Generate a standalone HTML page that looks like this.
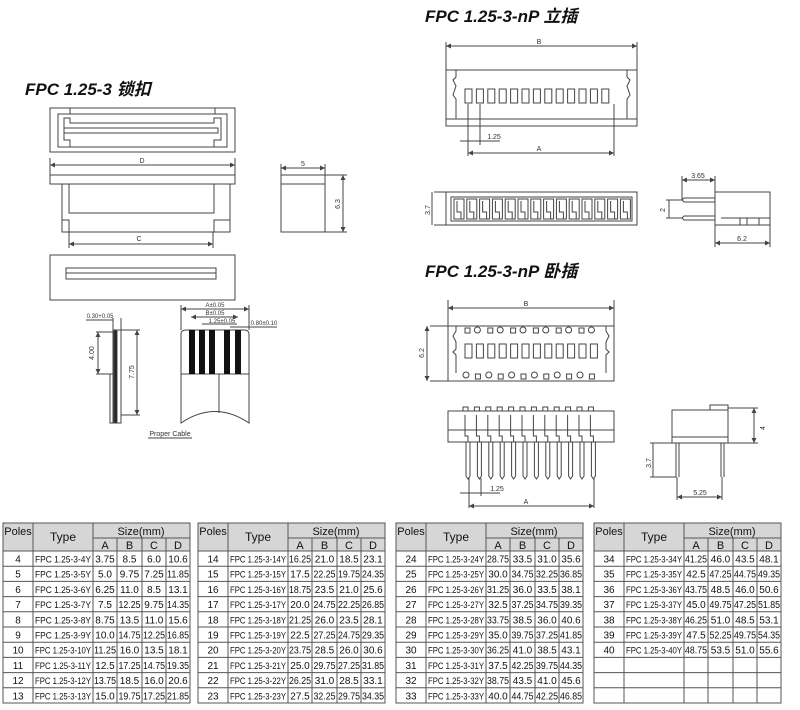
<!DOCTYPE html>
<html><head><meta charset="utf-8"><style>
body{margin:0;background:#fff;}
svg{display:block;font-family:"Liberation Sans","Noto Sans CJK SC",sans-serif;}
.ttl{font-weight:bold;font-style:italic;font-size:17px;fill:#111;}
.d{font-size:7px;fill:#333;text-anchor:middle;}
.s{fill:none;stroke:#444;stroke-width:1;}
.t{font-size:10px;fill:#111;}
.c{font-size:10px;fill:#111;text-anchor:middle;}
.h{font-size:11px;fill:#111;text-anchor:middle;}
.g line,.g rect{stroke:#555;stroke-width:1;}
</style></head><body>
<svg id="sv" width="800" height="710" viewBox="0 0 800 710" xmlns="http://www.w3.org/2000/svg">
<defs><marker id="a" viewBox="0 0 6 6" refX="6" refY="3" markerWidth="5" markerHeight="5" orient="auto-start-reverse"><path d="M0,0L6,3L0,6z" fill="#444"/></marker></defs>
<!-- titles -->
<text x="25" y="95" class="ttl">FPC 1.25-3 锁扣</text>
<text x="425" y="22" class="ttl">FPC 1.25-3-nP 立插</text>
<text x="425" y="277" class="ttl">FPC 1.25-3-nP 卧插</text>

<!-- left top view -->
<g class="s">
<rect x="50" y="108" width="185" height="44"/>
<rect x="58" y="114" width="169" height="33"/>
<line x1="70" y1="108" x2="70" y2="114"/><line x1="215" y1="108" x2="215" y2="114"/>
<polyline points="70,147 70,140 64,140 64,118 70,118 70,123 214,123 214,118 221,118 221,140 214,140 214,147"/>
<rect x="64" y="128" width="154" height="5"/>
<!-- D dim -->
<line x1="50" y1="158" x2="50" y2="175"/><line x1="235" y1="158" x2="235" y2="175"/>
<line x1="50" y1="165" x2="235" y2="165" marker-start="url(#a)" marker-end="url(#a)"/>
<!-- side -->
<rect x="50" y="175" width="185" height="9"/>
<polyline points="62,184 62,232 230,232 230,184"/>
<polyline points="69,184 69,213 214,213 214,184"/>
<polyline points="62,220 69,220 69,232"/><polyline points="230,220 214,220 214,232"/>
<line x1="69" y1="232" x2="69" y2="248"/><line x1="213" y1="232" x2="213" y2="248"/>
<line x1="69" y1="244" x2="213" y2="244" marker-start="url(#a)" marker-end="url(#a)"/>
<!-- small box -->
<rect x="281" y="175" width="44" height="57"/><line x1="281" y1="184" x2="325" y2="184"/>
<line x1="281" y1="164" x2="281" y2="175"/><line x1="325" y1="164" x2="325" y2="175"/>
<line x1="281" y1="168" x2="325" y2="168" marker-start="url(#a)" marker-end="url(#a)"/>
<line x1="325" y1="175" x2="347" y2="175"/><line x1="325" y1="232" x2="347" y2="232"/>
<line x1="343" y1="175" x2="343" y2="232" marker-start="url(#a)" marker-end="url(#a)"/>
<!-- bottom rect -->
<rect x="50" y="255" width="185" height="45"/>
<rect x="66" y="268" width="150" height="11"/><line x1="66" y1="273" x2="216" y2="273"/>
<!-- cable -->
<rect x="113" y="330" width="8" height="93"/>
<rect x="114" y="330" width="3" height="93" fill="#222"/>
<rect x="110" y="374" width="3" height="49"/>
<line x1="96" y1="332" x2="113" y2="332"/><line x1="96" y1="374" x2="113" y2="374"/>
<line x1="98" y1="332" x2="98" y2="374" marker-start="url(#a)" marker-end="url(#a)"/>
<line x1="121" y1="330" x2="140" y2="330"/><line x1="121" y1="415" x2="140" y2="415"/>
<line x1="137" y1="330" x2="137" y2="415" marker-start="url(#a)" marker-end="url(#a)"/>
<line x1="113" y1="318" x2="113" y2="330"/><line x1="121" y1="318" x2="121" y2="330"/>
<line x1="86" y1="320" x2="113" y2="320"/>
<path d="M181,334 Q181,330 186,330 L244,330 Q249,330 249,334 L249,423 Q215,400 181,423 Z"/>
<line x1="181" y1="374" x2="249" y2="374"/><line x1="219" y1="374" x2="219" y2="413"/>
<line x1="181" y1="309" x2="249" y2="309" marker-start="url(#a)" marker-end="url(#a)"/>
<line x1="191" y1="317" x2="238" y2="317" marker-start="url(#a)" marker-end="url(#a)"/>
<line x1="202" y1="324" x2="237" y2="324"/>
<line x1="230" y1="327" x2="277" y2="327"/>
<line x1="181" y1="305" x2="181" y2="330"/><line x1="249" y1="305" x2="249" y2="330"/>
<line x1="148" y1="438" x2="192" y2="438"/>
</g>
<g fill="#111">
<rect x="189" y="330" width="6" height="44"/><rect x="199" y="330" width="6" height="44"/><rect x="209" y="330" width="6" height="44"/><rect x="224" y="330" width="6" height="44"/><rect x="235" y="330" width="6" height="44"/>
</g>
<text x="142" y="163" class="d">D</text><text x="139" y="241" class="d">C</text>
<text x="303" y="166" class="d">5</text>
<text x="340" y="204" class="d" transform="rotate(-90 340 204)">6.3</text>
<text x="100" y="318" class="d" style="font-size:6px">0.30+0.05</text>
<text x="94" y="353" class="d" transform="rotate(-90 94 353)">4.00</text>
<text x="134" y="372" class="d" transform="rotate(-90 134 372)">7.75</text>
<text x="215" y="307" class="d" style="font-size:6px">A±0.05</text>
<text x="215" y="315" class="d" style="font-size:6px">B±0.05</text>
<text x="222" y="323" class="d" style="font-size:6px">1.25±0.05</text>
<text x="264" y="325" class="d" style="font-size:6px">0.80±0.10</text>
<text x="170" y="436" class="d">Proper Cable</text>

<!-- right top -->
<g class="s">
<line x1="446" y1="42" x2="446" y2="70"/><line x1="637" y1="42" x2="637" y2="70"/>
<line x1="446" y1="46" x2="637" y2="46" marker-start="url(#a)" marker-end="url(#a)"/>
<rect x="446" y="70" width="191" height="56"/><line x1="446" y1="119" x2="637" y2="119"/>
<path d="M456,70 L456,77 L453,80 L456,86 L453,95 L456,99 L456,119"/>
<path d="M627,70 L627,77 L630,80 L627,86 L630,95 L627,99 L627,119"/>
<line x1="468" y1="104" x2="468" y2="156"/><line x1="480" y1="104" x2="480" y2="145"/><line x1="614" y1="104" x2="614" y2="156"/>
<line x1="460" y1="141" x2="500" y2="141"/>
<line x1="468" y1="153" x2="614" y2="153" marker-start="url(#a)" marker-end="url(#a)"/>
<!-- front -->
<rect x="446" y="192" width="191" height="33"/><rect x="451" y="197" width="181" height="24"/>
<line x1="434" y1="192" x2="446" y2="192"/><line x1="434" y1="225" x2="446" y2="225"/>
<line x1="432" y1="192" x2="432" y2="225"/>
<!-- side -->
<rect x="715" y="192" width="55" height="33"/><line x1="721" y1="218" x2="770" y2="218"/>
<line x1="740" y1="218" x2="740" y2="225"/><line x1="747" y1="218" x2="747" y2="225"/><line x1="759" y1="218" x2="759" y2="225"/>
<path d="M715,198 L684,198 L682,200 L684,202 L715,202"/><path d="M715,216 L684,216 L682,218 L684,220 L715,220"/>
<line x1="682" y1="176" x2="682" y2="200"/><line x1="715" y1="176" x2="715" y2="192"/>
<line x1="682" y1="180" x2="715" y2="180" marker-start="url(#a)" marker-end="url(#a)"/>
<line x1="666" y1="200" x2="682" y2="200"/><line x1="666" y1="218" x2="682" y2="218"/>
<line x1="669" y1="200" x2="669" y2="218"/>
<line x1="715" y1="225" x2="715" y2="247"/><line x1="770" y1="225" x2="770" y2="247"/>
<line x1="715" y1="243" x2="770" y2="243" marker-start="url(#a)" marker-end="url(#a)"/>
</g>
<text x="539" y="44" class="d">B</text><text x="494" y="139" class="d">1.25</text><text x="539" y="151" class="d">A</text>
<text x="430" y="210" class="d" transform="rotate(-90 430 210)">3.7</text>
<text x="698" y="178" class="d">3.65</text><text x="665" y="210" class="d" transform="rotate(-90 665 210)">2</text>
<text x="742" y="241" class="d">6.2</text>

<!-- right bottom -->
<g class="s">
<line x1="448" y1="300" x2="448" y2="326"/><line x1="614" y1="300" x2="614" y2="326"/>
<line x1="448" y1="308" x2="614" y2="308" marker-start="url(#a)" marker-end="url(#a)"/>
<rect x="448" y="326" width="166" height="55"/>
<path d="M456,326 L456,331 L453,336 L456,342 L456,349 L453,352 L456,355 L456,373"/>
<path d="M606,326 L606,331 L609,336 L606,342 L606,349 L609,352 L606,355 L606,373"/>
<line x1="430" y1="326" x2="448" y2="326"/><line x1="430" y1="381" x2="448" y2="381"/>
<line x1="427" y1="326" x2="427" y2="381" marker-start="url(#a)" marker-end="url(#a)"/>
<rect x="448" y="411" width="166" height="31"/>
<line x1="448" y1="430" x2="614" y2="430"/>
<rect x="672" y="410" width="56" height="33"/><rect x="710" y="405" width="18" height="5"/>
<line x1="672" y1="437" x2="728" y2="437"/>
<line x1="676" y1="443" x2="676" y2="477"/><line x1="679" y1="443" x2="679" y2="477"/>
<line x1="721" y1="443" x2="721" y2="477"/><line x1="724" y1="443" x2="724" y2="477"/>
<line x1="728" y1="408" x2="758" y2="408"/><line x1="728" y1="443" x2="758" y2="443"/>
<line x1="754" y1="408" x2="754" y2="443" marker-start="url(#a)" marker-end="url(#a)"/>
<line x1="650" y1="443" x2="676" y2="443"/><line x1="650" y1="477" x2="676" y2="477"/>
<line x1="653" y1="443" x2="653" y2="477"/>
<line x1="677" y1="477" x2="677" y2="500"/><line x1="722" y1="477" x2="722" y2="500"/>
<line x1="677" y1="497" x2="722" y2="497" marker-start="url(#a)" marker-end="url(#a)"/>
<line x1="469" y1="478" x2="469" y2="508"/><line x1="481" y1="478" x2="481" y2="496"/><line x1="594" y1="478" x2="594" y2="508"/>
<line x1="460" y1="493" x2="500" y2="493"/>
<line x1="469" y1="506" x2="594" y2="506" marker-start="url(#a)" marker-end="url(#a)"/>
</g>
<g id="dyn" class="s"></g>
<text x="526" y="306" class="d">B</text>
<text x="424" y="353" class="d" transform="rotate(-90 424 353)">6.2</text>
<text x="765" y="428" class="d" transform="rotate(-90 765 428)">4</text>
<text x="651" y="463" class="d" transform="rotate(-90 651 463)">3.7</text>
<text x="700" y="495" class="d">5.25</text>
<text x="497" y="491" class="d">1.25</text><text x="526" y="504" class="d">A</text>

<!-- tables -->
<g class="g" fill="none">
<g id="tbls"></g>
</g>
<g id="ttext"></g>
<g class="tables-text">
<text x="18" y="535" class="h">Poles</text><text x="63" y="541" class="h" style="font-size:12px">Type</text><text x="141" y="535" class="h">Size(mm)</text>
<text x="105" y="549" class="h">A</text><text x="129.5" y="549" class="h">B</text><text x="154" y="549" class="h">C</text><text x="178" y="549" class="h">D</text>
<text x="213" y="535" class="h">Poles</text><text x="258" y="541" class="h" style="font-size:12px">Type</text><text x="336" y="535" class="h">Size(mm)</text>
<text x="300" y="549" class="h">A</text><text x="324.5" y="549" class="h">B</text><text x="349" y="549" class="h">C</text><text x="373" y="549" class="h">D</text>
<text x="411" y="535" class="h">Poles</text><text x="456" y="541" class="h" style="font-size:12px">Type</text><text x="534" y="535" class="h">Size(mm)</text>
<text x="498" y="549" class="h">A</text><text x="522.5" y="549" class="h">B</text><text x="547" y="549" class="h">C</text><text x="571" y="549" class="h">D</text>
<text x="609" y="535" class="h">Poles</text><text x="654" y="541" class="h" style="font-size:12px">Type</text><text x="732" y="535" class="h">Size(mm)</text>
<text x="696" y="549" class="h">A</text><text x="720.5" y="549" class="h">B</text><text x="745" y="549" class="h">C</text><text x="769" y="549" class="h">D</text>
</g>
<g id="rows"></g>
</svg>
<div id="data" style="display:none">
4|FPC 1.25-3-4Y|3.75|8.5|6.0|10.6
5|FPC 1.25-3-5Y|5.0|9.75|7.25|11.85
6|FPC 1.25-3-6Y|6.25|11.0|8.5|13.1
7|FPC 1.25-3-7Y|7.5|12.25|9.75|14.35
8|FPC 1.25-3-8Y|8.75|13.5|11.0|15.6
9|FPC 1.25-3-9Y|10.0|14.75|12.25|16.85
10|FPC 1.25-3-10Y|11.25|16.0|13.5|18.1
11|FPC 1.25-3-11Y|12.5|17.25|14.75|19.35
12|FPC 1.25-3-12Y|13.75|18.5|16.0|20.6
13|FPC 1.25-3-13Y|15.0|19.75|17.25|21.85
14|FPC 1.25-3-14Y|16.25|21.0|18.5|23.1
15|FPC 1.25-3-15Y|17.5|22.25|19.75|24.35
16|FPC 1.25-3-16Y|18.75|23.5|21.0|25.6
17|FPC 1.25-3-17Y|20.0|24.75|22.25|26.85
18|FPC 1.25-3-18Y|21.25|26.0|23.5|28.1
19|FPC 1.25-3-19Y|22.5|27.25|24.75|29.35
20|FPC 1.25-3-20Y|23.75|28.5|26.0|30.6
21|FPC 1.25-3-21Y|25.0|29.75|27.25|31.85
22|FPC 1.25-3-22Y|26.25|31.0|28.5|33.1
23|FPC 1.25-3-23Y|27.5|32.25|29.75|34.35
24|FPC 1.25-3-24Y|28.75|33.5|31.0|35.6
25|FPC 1.25-3-25Y|30.0|34.75|32.25|36.85
26|FPC 1.25-3-26Y|31.25|36.0|33.5|38.1
27|FPC 1.25-3-27Y|32.5|37.25|34.75|39.35
28|FPC 1.25-3-28Y|33.75|38.5|36.0|40.6
29|FPC 1.25-3-29Y|35.0|39.75|37.25|41.85
30|FPC 1.25-3-30Y|36.25|41.0|38.5|43.1
31|FPC 1.25-3-31Y|37.5|42.25|39.75|44.35
32|FPC 1.25-3-32Y|38.75|43.5|41.0|45.6
33|FPC 1.25-3-33Y|40.0|44.75|42.25|46.85
34|FPC 1.25-3-34Y|41.25|46.0|43.5|48.1
35|FPC 1.25-3-35Y|42.5|47.25|44.75|49.35
36|FPC 1.25-3-36Y|43.75|48.5|46.0|50.6
37|FPC 1.25-3-37Y|45.0|49.75|47.25|51.85
38|FPC 1.25-3-38Y|46.25|51.0|48.5|53.1
39|FPC 1.25-3-39Y|47.5|52.25|49.75|54.35
40|FPC 1.25-3-40Y|48.75|53.5|51.0|55.6
</div>
<script>
var NS="http://www.w3.org/2000/svg";
function el(p,t,a,txt){var e=document.createElementNS(NS,t);for(var k in a)e.setAttribute(k,a[k]);if(txt!=null)e.textContent=txt;p.appendChild(e);return e;}
var dyn=document.getElementById('dyn');
var i,x;
// top-right slots
for(i=0;i<13;i++){x=465+i*11.4;el(dyn,'rect',{x:x,y:89,width:7,height:14});}
// front view comb
for(i=0;i<14;i++){x=452+i*12.8;el(dyn,'rect',{x:x+2,y:199,width:10,height:20});el(dyn,'polyline',{points:(x+5)+',201 '+(x+5)+',212 '+(x+9)+',212 '+(x+9)+',219'});}
// bottom top view
for(i=0;i<12;i++){x=468+i*11.4;el(dyn,'rect',{x:x-3,y:344,width:7,height:14});
 if(i%2==0){el(dyn,'rect',{x:x-3,y:328,width:5,height:5});el(dyn,'circle',{cx:x-2,cy:375,r:3});}
 else{el(dyn,'circle',{cx:x-2,cy:330,r:3});el(dyn,'rect',{x:x-4,y:374,width:5,height:5});}
 // front comb + pins
 el(dyn,'rect',{x:x-5,y:407,width:5,height:4});
 el(dyn,'polyline',{points:(x-3)+',415 '+(x-3)+',436 '+(x)+',436 '+(x)+',442'});
 el(dyn,'path',{d:'M'+(x-2)+',442 L'+(x-2)+',476 L'+(x)+',479 L'+(x+2)+',476 L'+(x+2)+',442'});
}
// tables
var tb=document.getElementById('tbls');var rows=document.getElementById('rows');
var offs=[3,198,396,594];var cols=[0,30,90,114,139,163,187];
var lines=document.getElementById('data').textContent.trim().split('\n');
for(var t=0;t<4;t++){var o=offs[t];
 el(tb,'rect',{x:o,y:523,width:187,height:180,fill:'#fff','stroke-width':1.5});
 el(tb,'rect',{x:o,y:523,width:187,height:28,fill:'#d6d6d6'});
 el(tb,'line',{x1:o+90,y1:538,x2:o+187,y2:538});
 for(var c=1;c<6;c++){el(tb,'line',{x1:o+cols[c],y1:(c>=3?538:523),x2:o+cols[c],y2:703});}
 for(var r=0;r<=10;r++){var y=551+r*15.2;el(tb,'line',{x1:o,y1:y,x2:o+187,y2:y});}
 for(r=0;r<10;r++){var idx=t*10+r;if(idx>=lines.length)break;var v=lines[idx].split('|');var y=551+r*15.2+11.5;
  el(rows,'text',{x:o+15,y:y,'class':'c'},v[0]);
  el(rows,'text',{x:o+32,y:y,'class':'t',textLength:56,lengthAdjust:'spacingAndGlyphs',style:'font-size:9.5px'},v[1]);
  for(var k=2;k<6;k++){var cx=o+(cols[k]+cols[k+1])/2;var a={x:cx,y:y,'class':'c'};
   if(v[k].length>=5){a.textLength=22;a.lengthAdjust='spacingAndGlyphs';a.x=cx-11;a.style='text-anchor:start';}
   else if(v[k].length==4&&v[k].indexOf('.')==2&&v[k].length>3){}
   el(rows,'text',a,v[k]);}
 }
}
</script>
</body></html>
